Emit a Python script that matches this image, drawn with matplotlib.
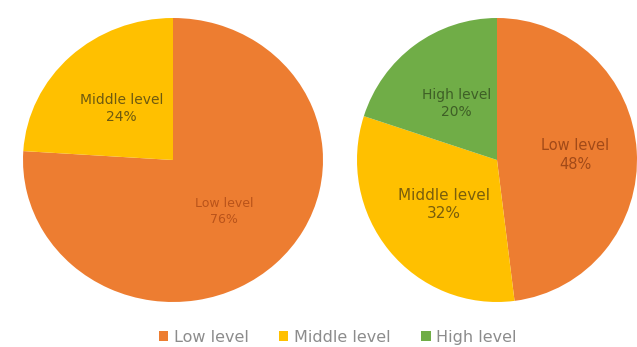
import numpy as np
import matplotlib.pyplot as plt

labels_left = ["Low level", "Middle level"]
values_left = [76, 24]
labels_right = ["Low level", "Middle level", "High level"]
values_right = [48, 32, 20]
legend_labels = ["Low level", "Middle level", "High level"]

colors = {"Low level": "#ED7D31", "Middle level": "#FFC000", "High level": "#70AD47"}
txt_colors_left = ["#B9531A", "#6E5A10"]
txt_colors_right = ["#A24A18", "#7A5E0C", "#3E5F26"]

fig = plt.figure(figsize=(6.37, 3.47), dpi=100)

# pixel boxes (left, top, width, height) -> figure coords
def box(l, t, w, h):
    return [l / 637, (347 - t - h) / 347, w / 637, h / 347]

ax1 = fig.add_axes(box(23, 18, 300, 284))
ax2 = fig.add_axes(box(357, 18, 280, 284))


def draw(ax, vals, labs, tcols, sizes, dists):
    wedges, _, auto = ax.pie(vals, colors=[colors[l] for l in labs], startangle=90,
                             counterclock=False, autopct='%.0f%%',
                             wedgeprops=dict(linewidth=0))
    for w, t, lab, c, s, d in zip(wedges, auto, labs, tcols, sizes, dists):
        t.set_text(lab + "\n" + t.get_text())
        t.set_color(c)
        t.set_fontsize(s)
        t.set_linespacing(1.3)
        a = np.deg2rad((w.theta1 + w.theta2) / 2)
        t.set_position((d * np.cos(a), d * np.sin(a)))
    ax.set_aspect('auto')
    ax.set_xlim(-1.0, 1.0)
    ax.set_ylim(-1.0, 1.0)
    return wedges


draw(ax1, values_left, labels_left, txt_colors_left, [9, 10], [0.5, 0.5])
w2 = draw(ax2, values_right, labels_right, txt_colors_right, [10.5, 11, 10],
          [0.56, 0.49, 0.49])

fig.legend(w2, legend_labels, loc='center', bbox_to_anchor=(0.53, 0.028), ncol=3,
           frameon=False, handlelength=0.6, handleheight=0.6, handletextpad=0.35,
           columnspacing=1.9, fontsize=11.5, labelcolor='#8C8C8C')

fig.savefig("out.png", dpi=100)
